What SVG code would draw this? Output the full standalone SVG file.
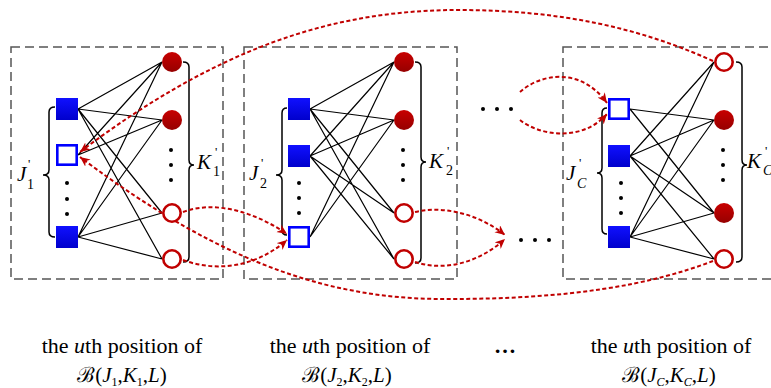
<svg xmlns="http://www.w3.org/2000/svg" width="771" height="388" viewBox="0 0 771 388">
<style>
.box{fill:none;stroke:#555;stroke-width:1.5;stroke-dasharray:9 5}
.sq{fill:url(#gb)}
.hsq{fill:#fff;stroke:#0000ff;stroke-width:2.6}
.ci{fill:url(#gr)}
.hci{fill:#fff;stroke:#c00000;stroke-width:2.6}
.e{stroke:#000;stroke-width:1.2;fill:none}
.br{stroke:#000;stroke-width:1.5;fill:none}
.rd{stroke:#c00000;stroke-width:2;stroke-dasharray:4 2.5;fill:none;marker-end:url(#ah)}
.dot{fill:#000}
text{font-family:'Liberation Serif','Times New Roman','DejaVu Serif',serif;fill:#000}
.lb{font-size:20px}
.it{font-style:italic}
.cap{font-size:22px}
.mt{font-size:21px}
</style>
<defs>
<linearGradient id="gb" x1="0" y1="0" x2="0" y2="1"><stop offset="0" stop-color="#1010ff"/><stop offset="1" stop-color="#0000cc"/></linearGradient>
<linearGradient id="gr" x1="0" y1="0" x2="0" y2="1"><stop offset="0" stop-color="#c80000"/><stop offset="1" stop-color="#960000"/></linearGradient>
<marker id="ah" markerUnits="userSpaceOnUse" markerWidth="12" markerHeight="10" refX="10" refY="4.5" orient="auto"><path d="M0,0 L10,4.5 L0,9 L3,4.5 z" fill="#c00000"/></marker>
</defs>

<g id="boxes">
<rect class="box" x="11" y="47" width="212" height="232"/>
<rect class="box" x="244" y="47" width="213" height="232"/>
<rect class="box" x="563" y="47" width="240" height="232"/>
</g>

<g id="connectors">
<path class="e" d="M78,109 L162,62 M78,109 L162,120 M78,109 L162,213 M78,109 L162,259 M78,155 L162,62 M78,155 L162,120 M78,237 L162,62 M78,237 L162,120 M78,237 L162,213 M78,237 L162,259"/>
<path class="e" d="M310,109 L394,62 M310,109 L394,120 M310,109 L394,213 M310,109 L394,259 M310,156 L394,62 M310,156 L394,120 M310,156 L394,213 M310,156 L394,259 M310,237 L394,62 M310,237 L394,120"/>
<path class="e" d="M630,109 L714,120 M630,109 L714,213 M630,156 L714,62 M630,156 L714,120 M630,156 L714,213 M630,156 L714,259 M630,237 L714,62 M630,237 L714,120 M630,237 L714,213 M630,237 L714,259"/>
<path class="br" d="M55,107 Q49,107 49,112 L49,170 Q49,175 43,175 Q49,175 49,180 L49,232 Q49,237 55,237"/>
<path class="br" d="M287,108 Q282,108 282,113 L282,170 Q282,175 276,175 Q282,175 282,180 L282,230 Q282,235 287,235"/>
<path class="br" d="M607,108 Q602,108 602,113 L602,168 Q602,173 597,173 Q602,173 602,178 L602,229 Q602,234 607,234"/>
<path class="br" d="M183,62 Q189,62 189,67 L189,160 Q189,165 194,165 Q189,165 189,170 L189,257 Q189,262 183,262"/>
<path class="br" d="M415,62 Q421,62 421,67 L421,157 Q421,162 426,162 Q421,162 421,167 L421,258 Q421,263 415,263"/>
<path class="br" d="M736,62 Q742,62 742,67 L742,160 Q742,165 747,165 Q742,165 742,170 L742,257 Q742,262 736,262"/>
<path class="rd" d="M183,212 C215,200 255,212 287,234"/>
<path class="rd" d="M183,260 C215,272 255,268 287,240"/>
<path class="rd" d="M415,212 C445,205 480,215 505,235"/>
<path class="rd" d="M415,262 C445,272 480,262 505,239"/>
<path class="rd" d="M520,92 C540,74 580,66 607,103"/>
<path class="rd" d="M520,120 C540,136 582,142 607,114"/>
<path class="rd" d="M713,61 C640,28 560,10 458,10 C330,10 215,50 80,152"/>
<path class="rd" d="M713,261 C650,285 570,299 450,299 C340,300 230,270 80,157"/>
</g>

<g id="box1">
<rect class="sq" x="56" y="98" width="22" height="22"/>
<rect class="hsq" x="57.3" y="145.3" width="19.4" height="19.4"/>
<rect class="sq" x="56" y="226" width="22" height="22"/>
<circle class="dot" cx="67" cy="183" r="2"/><circle class="dot" cx="67" cy="199" r="2"/><circle class="dot" cx="67" cy="214" r="2"/>
<circle class="ci" cx="172" cy="62" r="10"/>
<circle class="ci" cx="172" cy="120" r="10"/>
<circle class="hci" cx="172" cy="213" r="8.7"/>
<circle class="hci" cx="172" cy="259" r="8.7"/>
<circle class="dot" cx="171" cy="150" r="2"/><circle class="dot" cx="171" cy="165" r="2"/><circle class="dot" cx="171" cy="180" r="2"/>
<text class="lb"><tspan class="it" x="17" y="181" font-size="21">J</tspan><tspan x="28" y="168" font-size="13">'</tspan><tspan x="27" y="189" font-size="14">1</tspan></text>
<text class="lb"><tspan class="it" x="197" y="169" font-size="21">K</tspan><tspan x="215" y="156" font-size="13">'</tspan><tspan x="213" y="176" font-size="14">1</tspan></text>
</g>

<g id="box2">
<rect class="sq" x="288" y="98" width="22" height="22"/>
<rect class="sq" x="288" y="145" width="22" height="22"/>
<rect class="hsq" x="289.3" y="227.3" width="19.4" height="19.4"/>
<circle class="dot" cx="299" cy="183" r="2"/><circle class="dot" cx="299" cy="198" r="2"/><circle class="dot" cx="299" cy="213" r="2"/>
<circle class="ci" cx="404" cy="62" r="10"/>
<circle class="ci" cx="404" cy="120" r="10"/>
<circle class="hci" cx="404" cy="213" r="8.7"/>
<circle class="hci" cx="404" cy="259" r="8.7"/>
<circle class="dot" cx="403" cy="150" r="2"/><circle class="dot" cx="403" cy="165" r="2"/><circle class="dot" cx="403" cy="180" r="2"/>
<text class="lb"><tspan class="it" x="249" y="180" font-size="21">J</tspan><tspan x="261" y="167" font-size="13">'</tspan><tspan x="260" y="188" font-size="14">2</tspan></text>
<text class="lb"><tspan class="it" x="429" y="168" font-size="21">K</tspan><tspan x="447" y="155" font-size="13">'</tspan><tspan x="446" y="175" font-size="14">2</tspan></text>
</g>

<g id="box3">
<rect class="hsq" x="609.3" y="99.3" width="19.4" height="19.4"/>
<rect class="sq" x="608" y="145" width="22" height="22"/>
<rect class="sq" x="608" y="226" width="22" height="22"/>
<circle class="dot" cx="621" cy="183" r="2"/><circle class="dot" cx="621" cy="198" r="2"/><circle class="dot" cx="621" cy="213" r="2"/>
<circle class="hci" cx="724" cy="62" r="8.7"/>
<circle class="ci" cx="724" cy="120" r="10"/>
<circle class="ci" cx="724" cy="213" r="10"/>
<circle class="hci" cx="724" cy="259" r="8.7"/>
<circle class="dot" cx="723" cy="150" r="2"/><circle class="dot" cx="723" cy="165" r="2"/><circle class="dot" cx="723" cy="180" r="2"/>
<text class="lb"><tspan class="it" x="566" y="180" font-size="21">J</tspan><tspan x="579" y="167" font-size="13">'</tspan><tspan class="it" x="577" y="188" font-size="14">C</tspan></text>
<text class="lb"><tspan class="it" x="747" y="168" font-size="21">K</tspan><tspan x="765" y="155" font-size="13">'</tspan><tspan class="it" x="763" y="175" font-size="14">C</tspan></text>
</g>

<g id="ellipses">
<circle class="dot" cx="483" cy="109" r="2"/><circle class="dot" cx="497" cy="109" r="2"/><circle class="dot" cx="511" cy="109" r="2"/>
<circle class="dot" cx="521" cy="240" r="2"/><circle class="dot" cx="535" cy="240" r="2"/><circle class="dot" cx="549" cy="240" r="2"/>
</g>

<g id="captions">
<text class="cap" x="122" y="353" text-anchor="middle">the <tspan class="it">u</tspan>th position of</text>
<text class="cap" x="350" y="353" text-anchor="middle">the <tspan class="it">u</tspan>th position of</text>
<text class="cap" x="671" y="353" text-anchor="middle">the <tspan class="it">u</tspan>th position of</text>
<text class="cap" x="505" y="353" text-anchor="middle" font-size="26" font-weight="bold">…</text>
<text class="mt" x="122" y="382" text-anchor="middle">ℬ(<tspan class="it">J</tspan><tspan font-size="12" dy="4">1</tspan><tspan dy="-4">,</tspan><tspan class="it">K</tspan><tspan font-size="12" dy="4">1</tspan><tspan dy="-4">,</tspan><tspan class="it">L</tspan>)</text>
<text class="mt" x="347" y="382" text-anchor="middle">ℬ(<tspan class="it">J</tspan><tspan font-size="12" dy="4">2</tspan><tspan dy="-4">,</tspan><tspan class="it">K</tspan><tspan font-size="12" dy="4">2</tspan><tspan dy="-4">,</tspan><tspan class="it">L</tspan>)</text>
<text class="mt" x="669" y="382" text-anchor="middle">ℬ(<tspan class="it">J</tspan><tspan class="it" font-size="12" dy="4">C</tspan><tspan dy="-4">,</tspan><tspan class="it">K</tspan><tspan class="it" font-size="12" dy="4">C</tspan><tspan dy="-4">,</tspan><tspan class="it">L</tspan>)</text>
</g>
</svg>
